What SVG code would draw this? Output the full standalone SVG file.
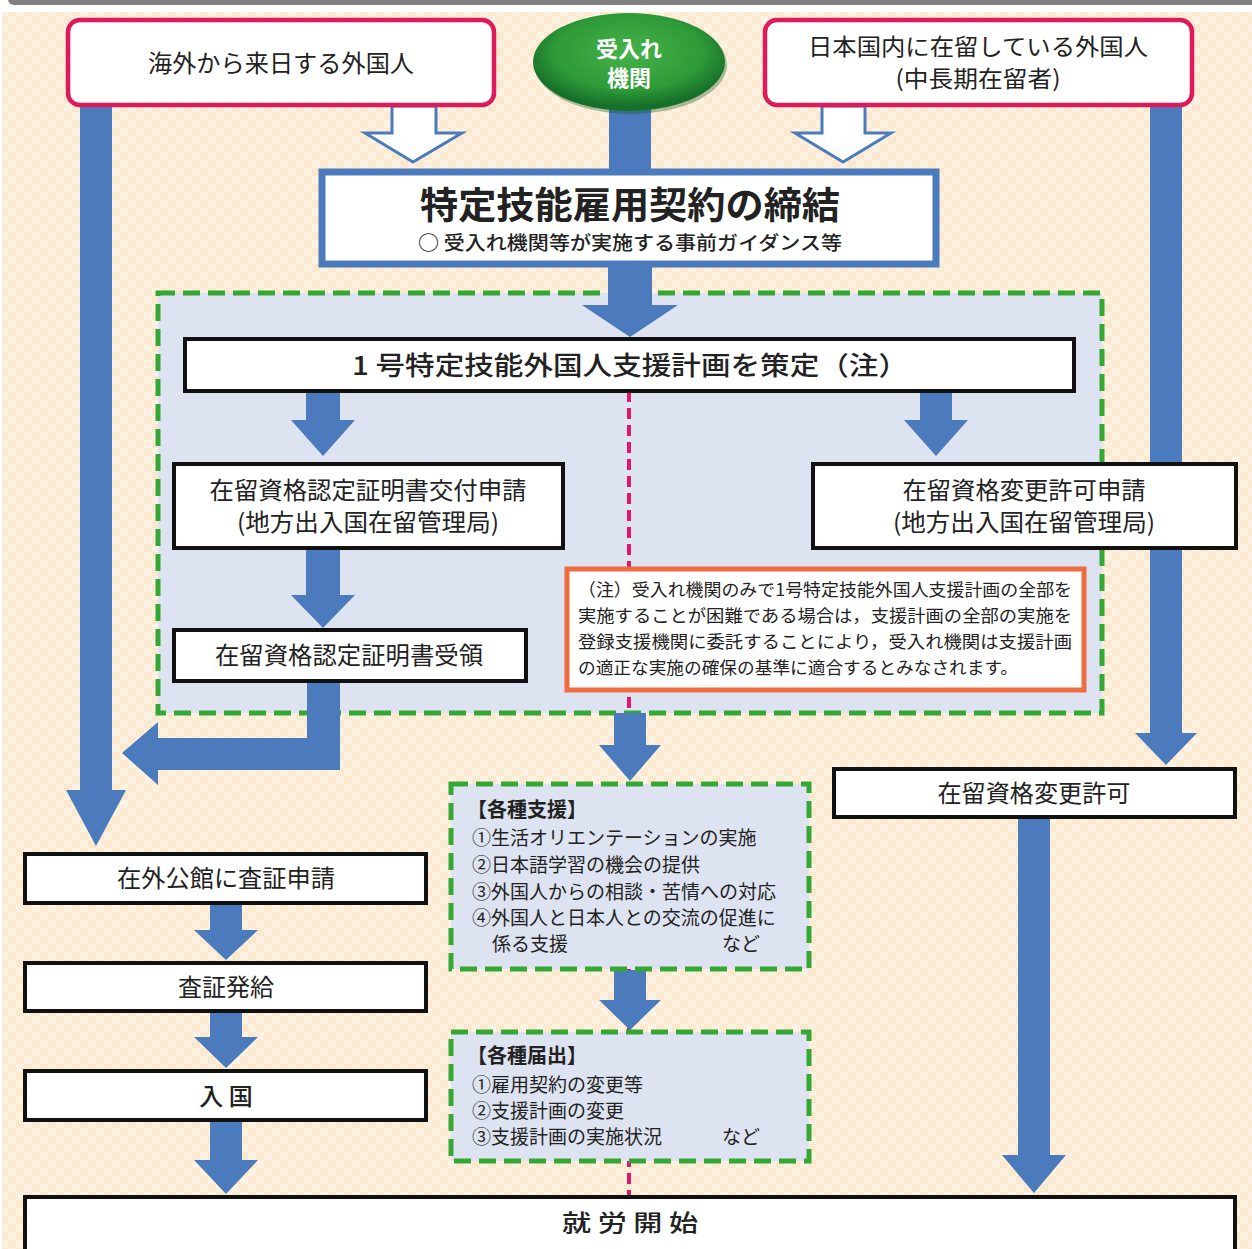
<svg xmlns="http://www.w3.org/2000/svg" width="1252" height="1249" viewBox="0 0 1252 1249">
<defs>
<pattern id="chk" width="16" height="16" patternUnits="userSpaceOnUse">
<rect width="16" height="16" fill="#fdf2e1"/>
<rect width="8" height="8" fill="#fbe9cf"/>
<rect x="8" y="8" width="8" height="8" fill="#fbe9cf"/>
</pattern>
<radialGradient id="eg" cx="50%" cy="40%" r="55%">
<stop offset="0%" stop-color="#45b34a"/>
<stop offset="70%" stop-color="#2e9a38"/>
<stop offset="100%" stop-color="#17702a"/>
</radialGradient>
<style>
.t{font-family:"Noto Sans CJK JP","Noto Sans CJK SC",sans-serif;fill:#222;dominant-baseline:central}
.c{text-anchor:middle}
.b{font-weight:bold}
.red{fill:#fff;stroke:#e0195a;stroke-width:4.5}
.blk{fill:#fff;stroke:#111;stroke-width:4}
.gd{fill:#dde3f0;stroke:#35a834;stroke-width:5;stroke-dasharray:17 8}
.arr{fill:#4b7bbd}
.hol{fill:#fff;stroke:#4b7bbd;stroke-width:3;stroke-linejoin:miter}
</style>
</defs>
<rect width="1252" height="1249" fill="#ffffff"/>
<rect x="8" y="-12" width="1256" height="17" rx="6" fill="#808080"/>
<rect x="2" y="12" width="1250" height="1237" fill="url(#chk)"/>

<g id="container">
<rect class="gd" x="158" y="293" width="944" height="420"/>
</g>
<g id="pink-line">
<line x1="629" y1="391" x2="629" y2="1196" stroke="#e2176b" stroke-width="4" stroke-dasharray="11 6"/>
</g>

<g id="connectors">
<polygon class="arr" points="80,106 112,106 112,790 126,790 96,846 66,790 80,790"/>
<polygon class="arr" points="1150,106 1182,106 1182,733 1197,733 1166,765 1135,733 1150,733"/>
<rect class="arr" x="609" y="106" width="42" height="68"/>
<polygon class="hol" points="392,106 436,106 436,133 462,133 413,162 365,133 392,133"/>
<polygon class="hol" points="822,106 865,106 865,133 891,133 843,162 795,133 822,133"/>
<polygon class="arr" points="608,262 652,262 652,305 678,305 630,337 582,305 608,305"/>
<polygon class="arr" points="306,391 340,391 340,420 355,420 323,456 291,420 306,420"/>
<polygon class="arr" points="920,391 952,391 952,420 968,420 936,456 904,420 920,420"/>
<polygon class="arr" points="306,548 340,548 340,595 355,595 323,628 291,595 306,595"/>
<polygon class="arr" points="307,681 340,681 340,770 158,770 158,785 122,753 158,722 158,738 307,738"/>
<polygon class="arr" points="614,713 646,713 646,745 661,745 630,781 599,745 614,745"/>
<polygon class="arr" points="614,970 646,970 646,1000 661,1000 630,1030 599,1000 614,1000"/>
<polygon class="arr" points="210,904 242,904 242,930 258,930 226,960 194,930 210,930"/>
<polygon class="arr" points="210,1012 242,1012 242,1037 258,1037 226,1068 194,1037 210,1037"/>
<polygon class="arr" points="210,1121 242,1121 242,1160 258,1160 226,1194 194,1160 210,1160"/>
<polygon class="arr" points="1018,818 1050,818 1050,1155 1066,1155 1034,1193 1002,1155 1018,1155"/>
</g>

<g id="node-overseas">
<rect class="red" x="68" y="20" width="426" height="85" rx="12"/>
<text class="t c" x="281" y="61" font-size="24" textLength="266" lengthAdjust="spacingAndGlyphs">海外から来日する外国人</text>
</g>
<g id="node-org">
<ellipse cx="631" cy="65" rx="96" ry="49" fill="#0f5a1e" opacity="0.35"/>
<ellipse cx="629" cy="62" rx="96" ry="49" fill="url(#eg)"/>
<text class="t c b" x="629" y="47" font-size="22" style="fill:#fff">受入れ</text>
<text class="t c b" x="629" y="76" font-size="22" style="fill:#fff">機関</text>
</g>
<g id="node-domestic">
<rect class="red" x="765" y="20" width="427" height="85" rx="12"/>
<text class="t c" x="978" y="45" font-size="23" textLength="340" lengthAdjust="spacingAndGlyphs">日本国内に在留している外国人</text>
<text class="t c" x="978" y="77" font-size="23" textLength="165" lengthAdjust="spacingAndGlyphs">(中長期在留者)</text>
</g>
<g id="node-contract">
<rect x="325" y="175" width="614" height="92" fill="#8a8a8a" opacity="0.4"/>
<rect x="322" y="172" width="614" height="92" fill="#fff" stroke="#4b7bbd" stroke-width="7"/>
<text class="t c b" x="630" y="203" font-size="37" textLength="420" lengthAdjust="spacingAndGlyphs">特定技能雇用契約の締結</text>
<text class="t c" x="630" y="241" font-size="19" textLength="424" lengthAdjust="spacingAndGlyphs" style="font-weight:500">○ 受入れ機関等が実施する事前ガイダンス等</text>
</g>
<g id="node-plan">
<rect class="blk" x="185" y="339" width="889" height="52"/>
<text class="t c" x="630" y="363" font-size="26" textLength="556" lengthAdjust="spacingAndGlyphs" style="font-weight:500">1 号特定技能外国人支援計画を策定（注）</text>
</g>
<g id="node-coe-apply">
<rect class="blk" x="174" y="464" width="389" height="84"/>
<text class="t c" x="368" y="488" font-size="24" textLength="317" lengthAdjust="spacingAndGlyphs">在留資格認定証明書交付申請</text>
<text class="t c" x="368" y="520" font-size="24" textLength="262" lengthAdjust="spacingAndGlyphs">(地方出入国在留管理局)</text>
</g>
<g id="node-change-apply">
<rect class="blk" x="813" y="464" width="423" height="84"/>
<text class="t c" x="1024" y="488" font-size="24" textLength="243" lengthAdjust="spacingAndGlyphs">在留資格変更許可申請</text>
<text class="t c" x="1024" y="520" font-size="24" textLength="262" lengthAdjust="spacingAndGlyphs">(地方出入国在留管理局)</text>
</g>
<g id="node-coe-receive">
<rect class="blk" x="174" y="630" width="352" height="51"/>
<text class="t c" x="349" y="653" font-size="24" textLength="268" lengthAdjust="spacingAndGlyphs">在留資格認定証明書受領</text>
</g>
<g id="node-note">
<rect x="567" y="569" width="517" height="121" fill="#fff" stroke="#ee6c3f" stroke-width="5"/>
<text class="t" x="578" y="588" font-size="17.5" textLength="494" lengthAdjust="spacingAndGlyphs">（注）受入れ機関のみで1号特定技能外国人支援計画の全部を</text>
<text class="t" x="578" y="614" font-size="17.5" textLength="494" lengthAdjust="spacingAndGlyphs">実施することが困難である場合は，支援計画の全部の実施を</text>
<text class="t" x="578" y="640" font-size="17.5" textLength="494" lengthAdjust="spacingAndGlyphs">登録支援機関に委託することにより，受入れ機関は支援計画</text>
<text class="t" x="578" y="666" font-size="17.5" textLength="440" lengthAdjust="spacingAndGlyphs">の適正な実施の確保の基準に適合するとみなされます。</text>
</g>
<g id="node-support">
<rect class="gd" x="451" y="784" width="358" height="185"/>
<text class="t b" x="467" y="808" font-size="20">【各種支援】</text>
<text class="t" x="472" y="836" font-size="19">①生活オリエンテーションの実施</text>
<text class="t" x="472" y="863" font-size="19">②日本語学習の機会の提供</text>
<text class="t" x="472" y="890" font-size="19">③外国人からの相談・苦情への対応</text>
<text class="t" x="472" y="916" font-size="19">④外国人と日本人との交流の促進に</text>
<text class="t" x="492" y="942" font-size="19">係る支援</text>
<text class="t" x="722" y="942" font-size="19">など</text>
</g>
<g id="node-notify">
<rect class="gd" x="451" y="1032" width="358" height="129"/>
<text class="t b" x="467" y="1054" font-size="20">【各種届出】</text>
<text class="t" x="472" y="1083" font-size="19">①雇用契約の変更等</text>
<text class="t" x="472" y="1109" font-size="19">②支援計画の変更</text>
<text class="t" x="472" y="1135" font-size="19">③支援計画の実施状況</text>
<text class="t" x="722" y="1135" font-size="19">など</text>
</g>
<g id="node-visa-apply">
<rect class="blk" x="25" y="854" width="401" height="49"/>
<text class="t c" x="226" y="876" font-size="24" textLength="218" lengthAdjust="spacingAndGlyphs">在外公館に査証申請</text>
</g>
<g id="node-visa-issue">
<rect class="blk" x="25" y="963" width="401" height="48"/>
<text class="t c" x="226" y="985" font-size="24">査証発給</text>
</g>
<g id="node-entry">
<rect class="blk" x="25" y="1071" width="401" height="49"/>
<text class="t c" x="226" y="1094" font-size="24" style="font-weight:500">入 国</text>
</g>
<g id="node-change-permit">
<rect class="blk" x="834" y="769" width="401" height="48"/>
<text class="t c" x="1034" y="791" font-size="24" textLength="193" lengthAdjust="spacingAndGlyphs">在留資格変更許可</text>
</g>
<g id="node-start">
<rect class="blk" x="25" y="1197" width="1210" height="60"/>
<text class="t c" x="630" y="1221" font-size="23" textLength="136" lengthAdjust="spacingAndGlyphs" style="font-weight:500">就 労 開 始</text>
</g>
</svg>
